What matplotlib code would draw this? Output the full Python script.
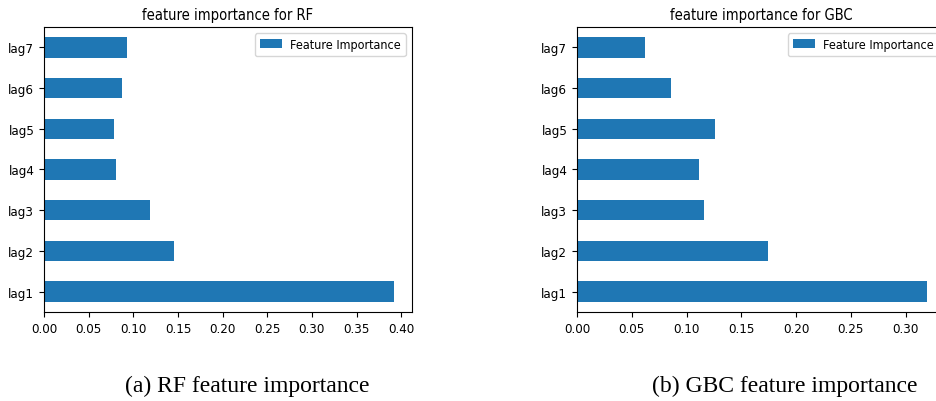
import matplotlib.pyplot as plt
import numpy as np

# feature names and importances
features = ["lag1", "lag2", "lag3", "lag4", "lag5", "lag6", "lag7"]
rf_importance = [0.3925, 0.146, 0.119, 0.081, 0.0786, 0.087, 0.093]
gbc_importance = [0.320, 0.174, 0.116, 0.111, 0.126, 0.086, 0.0618]

plt.rcParams["font.family"] = "DejaVu Sans"
plt.rcParams["font.stretch"] = "condensed"

fig = plt.figure(figsize=(9.37, 4.02), dpi=100)

ax1 = fig.add_axes([0.047, 0.2214, 0.3927, 0.709])
ax2 = fig.add_axes([0.6158, 0.2214, 0.3927, 0.709])

ypos = np.arange(len(features))
for ax, vals, title in [(ax1, rf_importance, "feature importance for RF"),
                        (ax2, gbc_importance, "feature importance for GBC")]:
    ax.barh(ypos, vals, height=0.5, color="#1f77b4", label="Feature Importance")
    ax.set_yticks(ypos)
    ax.set_yticklabels(features)
    ax.set_xlim(0, max(vals) * 1.05)
    ax.set_ylim(-0.5, len(features) - 0.5)
    ax.set_title(title, fontsize=10.5)
    ax.tick_params(labelsize=9.5)
    ax.legend(loc="upper right", fontsize=9, handlelength=1.8, handletextpad=0.6)

ax1.set_xticks(np.arange(0, 0.41, 0.05))
ax2.set_xticks(np.arange(0, 0.31, 0.05))
ax1.set_xticklabels(["%.2f" % t for t in np.arange(0, 0.41, 0.05)])
ax2.set_xticklabels(["%.2f" % t for t in np.arange(0, 0.31, 0.05)])

fig.text(247 / 937, 1 - 386 / 402, "(a) RF feature importance",
         family="Liberation Serif", fontsize=17, ha="center", va="center")
fig.text(785 / 937, 1 - 386 / 402, "(b) GBC feature importance",
         family="Liberation Serif", fontsize=17, ha="center", va="center")

fig.savefig("out.png", dpi=100)
